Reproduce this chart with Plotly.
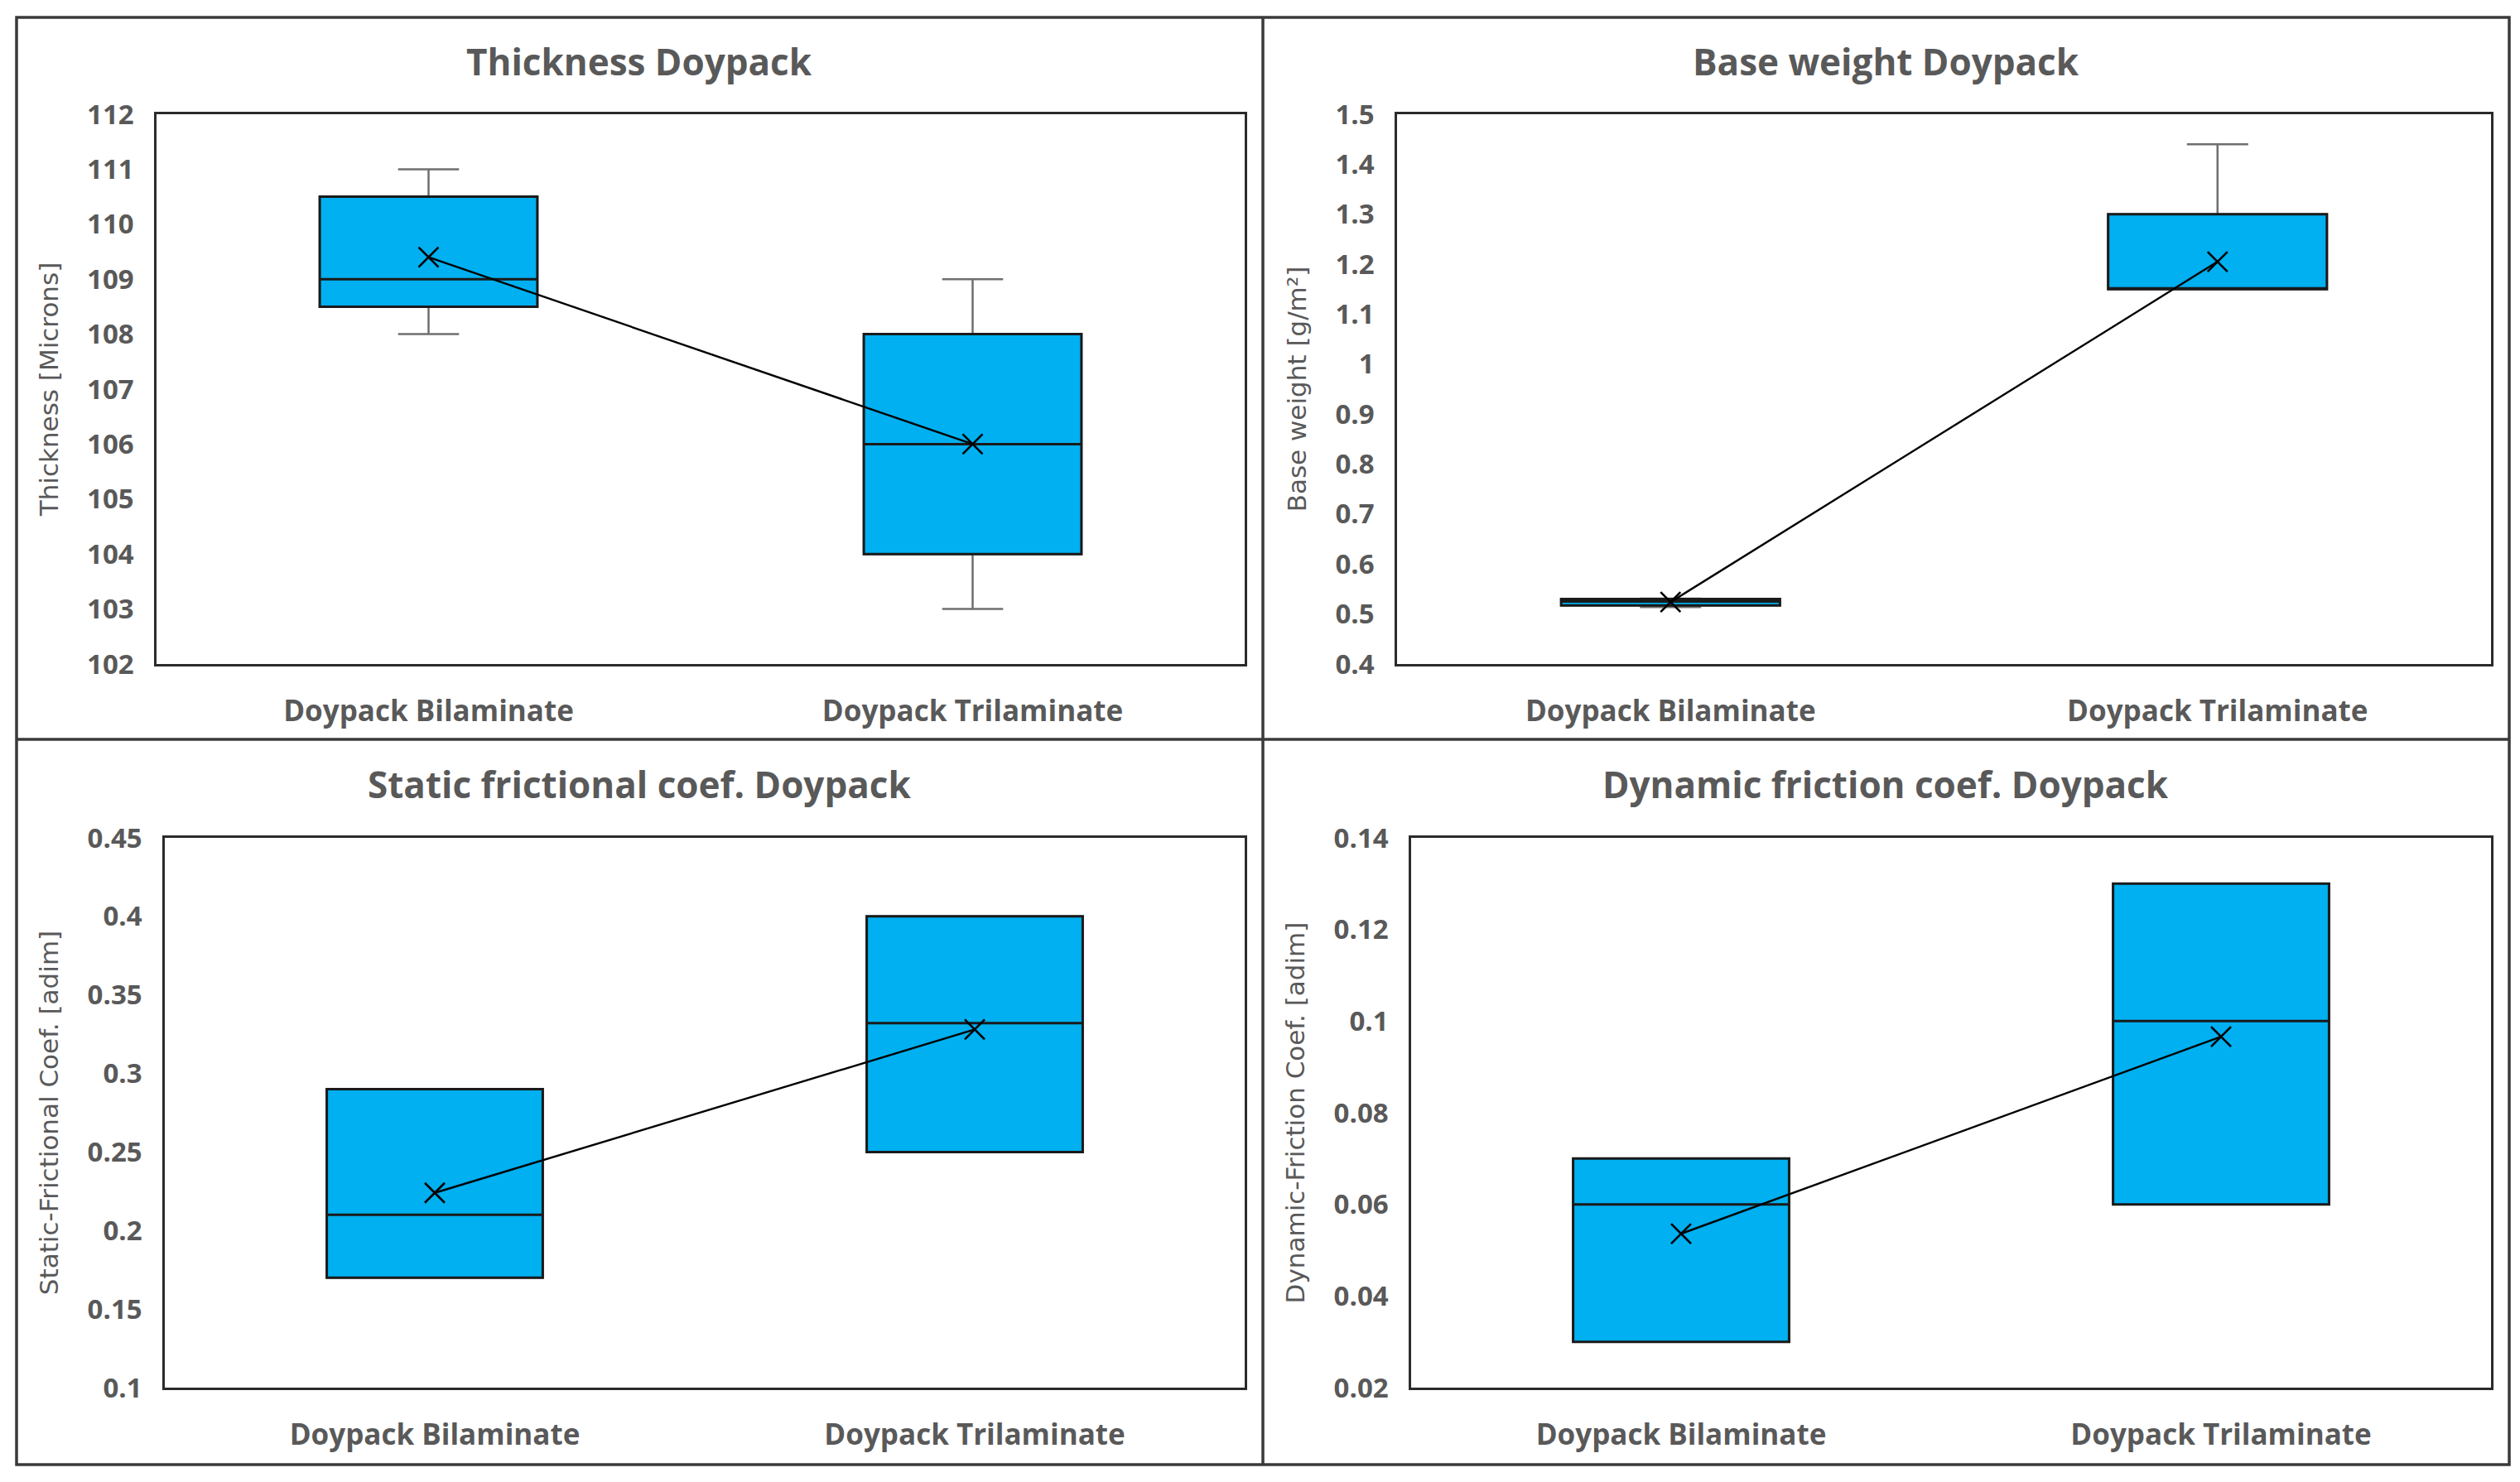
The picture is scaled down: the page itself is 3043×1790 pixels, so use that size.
import plotly.graph_objects as go
from plotly.subplots import make_subplots

# categories
groups = ["Doypack Bilaminate", "Doypack Trilaminate"]

# Thickness [Microns]
thick_low = [108, 103]
thick_q1 = [108.5, 104]
thick_med = [109, 106]
thick_q3 = [110.5, 108]
thick_high = [111, 109]
thick_mean = [109.4, 106.0]

# Base weight [g/m2]
base_low = [0.514, 1.15]
base_q1 = [0.517, 1.15]
base_med = [0.525, 1.15]
base_q3 = [0.530, 1.30]
base_high = [0.531, 1.44]
base_mean = [0.524, 1.205]

# Static frictional coef.
static_q1 = [0.17, 0.25]
static_med = [0.21, 0.332]
static_q3 = [0.29, 0.40]
static_mean = [0.224, 0.328]

# Dynamic friction coef.
dyn_q1 = [0.03, 0.06]
dyn_med = [0.06, 0.10]
dyn_q3 = [0.07, 0.13]
dyn_mean = [0.0536, 0.0966]

# y tick labels
thick_ticks = [102, 103, 104, 105, 106, 107, 108, 109, 110, 111, 112]
base_ticks = [0.4, 0.5, 0.6, 0.7, 0.8, 0.9, 1.0, 1.1, 1.2, 1.3, 1.4, 1.5]
base_ticktext = ["0.4", "0.5", "0.6", "0.7", "0.8", "0.9", "1", "1.1", "1.2", "1.3", "1.4", "1.5"]
static_ticks = [0.1, 0.15, 0.2, 0.25, 0.3, 0.35, 0.4, 0.45]
static_ticktext = ["0.1", "0.15", "0.2", "0.25", "0.3", "0.35", "0.4", "0.45"]
dyn_ticks = [0.02, 0.04, 0.06, 0.08, 0.1, 0.12, 0.14]
dyn_ticktext = ["0.02", "0.04", "0.06", "0.08", "0.1", "0.12", "0.14"]

titles = ["Thickness Doypack", "Base weight Doypack",
          "Static frictional coef. Doypack", "Dynamic friction coef. Doypack"]

W, H = 3043, 1790
OFF = 8  # page body margin, so pixel targets are shifted back by this much
FILL = "#00B0F0"
GREY_TXT = "#595959"


def px_x(p):
    return (p - OFF) / W


def px_y(p):
    return 1 - (p - OFF) / H


fig = make_subplots(rows=2, cols=2)


def add_panel(row, col, low, q1, med, q3, high, mean):
    # whiskers (grey) drawn underneath
    fig.add_trace(go.Box(x=groups, lowerfence=low, q1=q1, median=med, q3=q3,
                         upperfence=high, width=0.4, whiskerwidth=0.28,
                         fillcolor=FILL, line=dict(color="#6f6f6f", width=2.5),
                         boxpoints=False, showlegend=False, hoverinfo="skip"),
                  row=row, col=col)
    # box body with dark outline on top
    fig.add_trace(go.Box(x=groups, lowerfence=q1, q1=q1, median=med, q3=q3,
                         upperfence=q3, width=0.4, whiskerwidth=0,
                         fillcolor=FILL, line=dict(color="#1a1a1a", width=3),
                         boxpoints=False, showlegend=False),
                  row=row, col=col)
    # mean markers joined by a line
    fig.add_trace(go.Scatter(x=groups, y=mean, mode="lines+markers",
                             line=dict(color="black", width=2.4),
                             marker=dict(symbol="x-thin", size=24,
                                         line=dict(color="black", width=2.6)),
                             showlegend=False),
                  row=row, col=col)


add_panel(1, 1, thick_low, thick_q1, thick_med, thick_q3, thick_high, thick_mean)
add_panel(1, 2, base_low, base_q1, base_med, base_q3, base_high, base_mean)
add_panel(2, 1, static_q1, static_q1, static_med, static_q3, static_q3, static_mean)
add_panel(2, 2, dyn_q1, dyn_q1, dyn_med, dyn_q3, dyn_q3, dyn_mean)

# plot-area positions in pixels (left, right, top, bottom)
areas = {(1, 1): (189, 1503, 138, 802), (1, 2): (1687, 3008, 138, 802),
         (2, 1): (199, 1503, 1012, 1676), (2, 2): (1704, 3008, 1012, 1676)}
for (r, c), (x0, x1, y0, y1) in areas.items():
    fig.update_xaxes(domain=[px_x(x0), px_x(x1)], row=r, col=c)
    fig.update_yaxes(domain=[px_y(y1), px_y(y0)], row=r, col=c)

fig.update_xaxes(range=[-0.5, 1.5], showgrid=False, zeroline=False, automargin=False,
                 showline=True, linecolor="#2b2b2b", linewidth=2.5, mirror=True,
                 ticks="", ticklabelstandoff=24,
                 tickfont=dict(family="Open Sans", size=35, color=GREY_TXT, weight=700))
fig.update_yaxes(showgrid=False, zeroline=False, showline=True, automargin=False,
                 linecolor="#2b2b2b", linewidth=2.5, mirror=True,
                 ticks="", ticklabelstandoff=18,
                 tickfont=dict(family="Open Sans", size=33, color=GREY_TXT, weight=700),
                 title_font=dict(family="DejaVu Sans", size=31, color=GREY_TXT),
                 title_standoff=26)

fig.update_yaxes(range=[102, 112], tickvals=thick_ticks,
                 title_text="Thickness [Microns]", row=1, col=1)
fig.update_yaxes(range=[0.4, 1.5], tickvals=base_ticks, ticktext=base_ticktext,
                 title_text="Base weight [g/m²]", row=1, col=2)
fig.update_yaxes(range=[0.1, 0.45], tickvals=static_ticks, ticktext=static_ticktext,
                 title_text="Static-Frictional Coef. [adim]", row=2, col=1)
fig.update_yaxes(range=[0.02, 0.14], tickvals=dyn_ticks, ticktext=dyn_ticktext,
                 title_text="Dynamic-Friction Coef. [adim]", row=2, col=2)

# panel titles
title_pos = [(772, 74), (2277, 74), (772, 947), (2277, 947)]
for t, (tx, ty) in zip(titles, title_pos):
    fig.add_annotation(text=t, x=px_x(tx), y=px_y(ty), xref="paper", yref="paper",
                       showarrow=False, xanchor="center", yanchor="middle",
                       font=dict(family="Open Sans", size=44, color=GREY_TXT, weight=700))

# outer frame and dividers
frame = dict(color="#3a3a3a", width=3.5)
fig.add_shape(type="rect", xref="paper", yref="paper",
              x0=px_x(20), x1=px_x(3030), y0=px_y(1769), y1=px_y(21), line=frame)
fig.add_shape(type="line", xref="paper", yref="paper",
              x0=px_x(1525), x1=px_x(1525), y0=px_y(1769), y1=px_y(21), line=frame)
fig.add_shape(type="line", xref="paper", yref="paper",
              x0=px_x(20), x1=px_x(3030), y0=px_y(893), y1=px_y(893), line=frame)

fig.update_layout(width=W, height=H, margin=dict(l=0, r=0, t=0, b=0, pad=0),
                  boxmode="overlay", paper_bgcolor="white", plot_bgcolor="white",
                  showlegend=False)

fig.write_html("out.html")
